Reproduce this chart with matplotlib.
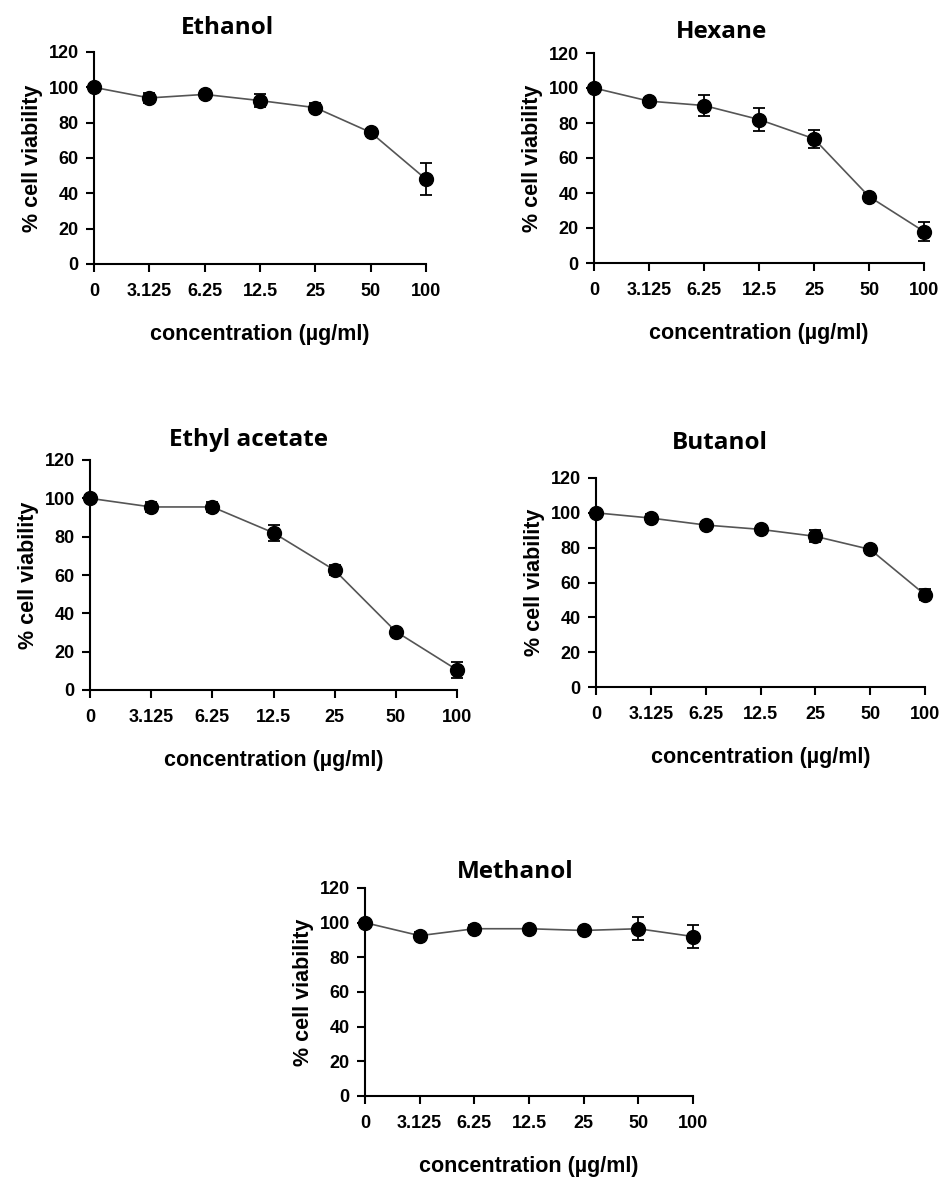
import numpy as np
import matplotlib
matplotlib.use("Agg")
import matplotlib.pyplot as plt

W, H = 946, 1177

conc_labels = ["0", "3.125", "6.25", "12.5", "25", "50", "100"]

ethanol = [100, 94, 96, 92.5, 88.5, 74.5, 48]
ethanol_err = [1.5, 3, 2, 3.5, 2.5, 2, 9]

hexane = [100, 92.5, 90, 82, 71, 38, 18]
hexane_err = [1.5, 2, 6, 6.5, 5, 2, 5.5]

ethyl_acetate = [100, 95.5, 95.5, 82, 62.5, 30.5, 10.5]
ethyl_acetate_err = [1.5, 2.5, 2.5, 4, 2.5, 2, 4]

butanol = [100, 97, 93, 90.5, 86.5, 79, 53]
butanol_err = [1.5, 2.5, 1.5, 1.5, 3.5, 2, 3]

methanol = [100, 92.5, 96.5, 96.5, 95.5, 96.5, 92]
methanol_err = [1.5, 2, 2, 1, 1, 6.5, 6.5]

# title, data, errors, axes box in pixels (left, right, top, bottom), title centre
panels = [
    ("Ethanol", ethanol, ethanol_err, (94, 426, 52, 264), (227, 28)),
    ("Hexane", hexane, hexane_err, (594, 924, 53, 263), (721, 32)),
    ("Ethyl acetate", ethyl_acetate, ethyl_acetate_err, (90, 457, 460, 690), (248, 440)),
    ("Butanol", butanol, butanol_err, (596, 925, 478, 687), (720, 443)),
    ("Methanol", methanol, methanol_err, (365, 693, 888, 1096), (515, 872)),
]

plt.rcParams['font.family'] = ['Liberation Sans', 'DejaVu Sans']

fig = plt.figure(figsize=(W / 100, H / 100), dpi=100)

for title, vals, errs, (l, r, t, b), (tx, ty) in panels:
    ax = fig.add_axes([l / W, 1 - b / H, (r - l) / W, (b - t) / H])
    x = np.arange(len(conc_labels))
    ax.plot(x, vals, color="#555555", lw=1.2, zorder=2, clip_on=False)
    ax.errorbar(x, vals, yerr=errs, fmt="o", color="black", ms=10,
                ecolor="black", elinewidth=1.3, capsize=4.5, capthick=1.3,
                zorder=3, clip_on=False)
    ax.set_xlim(0, 6)
    ax.set_ylim(0, 120)
    ax.set_xticks(x)
    ax.set_xticklabels(conc_labels)
    ax.set_yticks(np.arange(0, 121, 20))
    for s in ["top", "right"]:
        ax.spines[s].set_visible(False)
    for s in ["left", "bottom"]:
        ax.spines[s].set_linewidth(1.5)
    ax.tick_params(axis="both", direction="out", length=6, width=1.5,
                   labelsize=13, pad=5)
    ax.tick_params(axis="x", pad=8)
    for lab in ax.get_xticklabels() + ax.get_yticklabels():
        lab.set_fontweight("bold")
    ax.set_ylabel("% cell viability", fontsize=15.5, fontweight="bold", labelpad=4)
    ax.set_xlabel("concentration (\u00b5g/ml)", fontsize=15.5, fontweight="bold", labelpad=17)
    fig.text(tx / W, 1 - ty / H, title, ha="center", va="center",
             fontsize=17.5, fontweight="bold", family=["Open Sans", "DejaVu Sans"])

fig.savefig("out.png", dpi=100)
